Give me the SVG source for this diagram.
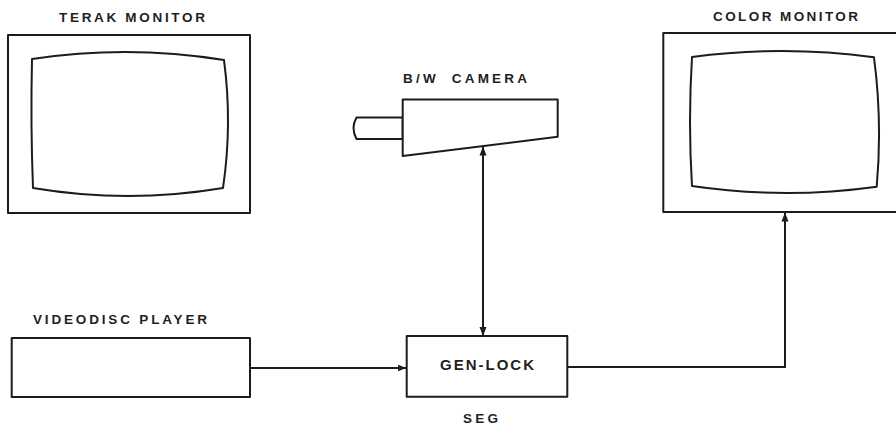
<svg xmlns="http://www.w3.org/2000/svg" width="896" height="429" viewBox="0 0 896 429">
  <defs>
    <marker id="arrow" markerWidth="9" markerHeight="8" refX="8.5" refY="4" orient="auto-start-reverse" markerUnits="userSpaceOnUse">
      <path d="M0,0.5 L9,4 L0,7.5 Z" fill="#1c1c1c"/>
    </marker>
    <style>
      .shape { fill: #fff; stroke: #1c1c1c; stroke-width: 2; stroke-linejoin: round; }
      .line { fill: none; stroke: #1c1c1c; stroke-width: 2; }
      .lbl { font-family: "Liberation Sans", Arial, sans-serif; font-weight: bold; fill: #1f1f1f; font-size: 13.5px; }
    </style>
  </defs>
  <rect width="896" height="429" fill="#fff"/>

  <g id="terak-monitor">
    <text class="lbl" x="59" y="22" textLength="146" lengthAdjust="spacing">TERAK MONITOR</text>
    <rect class="shape" x="8" y="35" width="242" height="178"/>
    <path class="shape" d="M32,59 Q128,44.5 224,60 Q232.5,124 223,188 Q128,204 33,188 Q30.5,124 32,59 Z"/>
  </g>

  <g id="bw-camera">
    <text class="lbl" x="403" y="83" textLength="124" lengthAdjust="spacing" word-spacing="6">B/W CAMERA</text>
    <path class="shape" d="M356.5,117.5 L402.7,117.5 L402.7,139 L356.5,139 Q350.5,128 356.5,117.5 Z"/>
    <path class="shape" d="M402.7,99.5 L557.7,99.5 L557.7,136.7 L402.7,156 Z"/>
  </g>

  <g id="color-monitor">
    <text class="lbl" x="713" y="21" textLength="145" lengthAdjust="spacing">COLOR MONITOR</text>
    <rect class="shape" x="663.3" y="33" width="245" height="179"/>
    <path class="shape" d="M692,57 Q783,45 874,57.3 Q882.5,122 876.7,186.7 Q784,199.6 692,186 Q688,122 692,57 Z"/>
  </g>

  <g id="videodisc-player">
    <text class="lbl" x="33" y="324" textLength="174" lengthAdjust="spacing">VIDEODISC PLAYER</text>
    <rect class="shape" x="11.7" y="338" width="238.3" height="59"/>
  </g>

  <g id="gen-lock">
    <rect class="shape" x="406.7" y="336" width="160.6" height="60.7"/>
    <text class="lbl" x="440" y="369.5" textLength="94" lengthAdjust="spacing" style="font-size:15px">GEN-LOCK</text>
    <text class="lbl" x="463" y="423" textLength="35" lengthAdjust="spacing">SEG</text>
  </g>

  <g id="connectors">
    <line class="line" x1="250" y1="368" x2="406" y2="368" marker-end="url(#arrow)"/>
    <line class="line" x1="483" y1="147" x2="483" y2="335.5" marker-start="url(#arrow)" marker-end="url(#arrow)"/>
    <polyline class="line" points="567.3,367 785,367 785,213" marker-end="url(#arrow)"/>
  </g>
</svg>
